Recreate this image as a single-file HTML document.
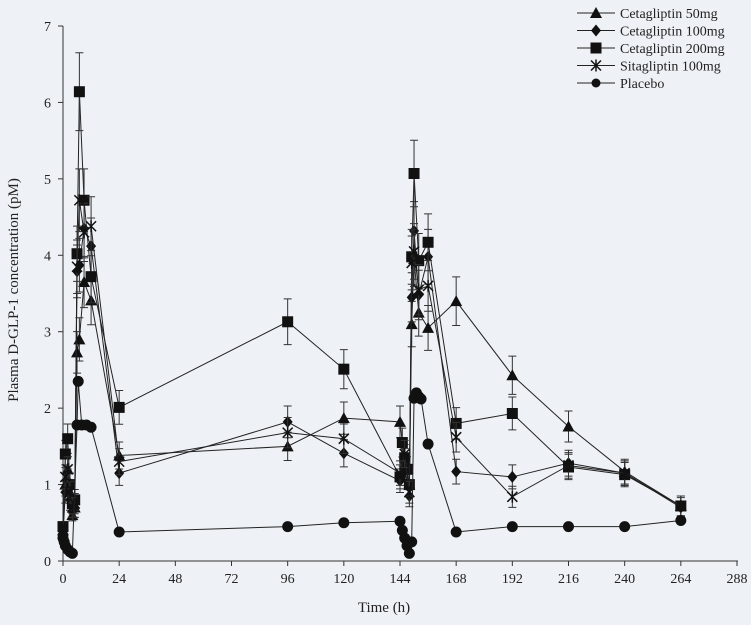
<!DOCTYPE html>
<html><head><style>body{margin:0;background:#eef2f6}svg{display:block;font-family:"Liberation Serif",serif}</style></head>
<body>
<svg id="s" width="751" height="625" xmlns="http://www.w3.org/2000/svg"></svg>
<script>
const X=t=>63+t*674/288, Y=v=>561-v*76.43;
let h='<rect width="751" height="625" fill="#eef2f6"/>';
h+='<line x1="63" y1="26" x2="63" y2="561" stroke="#333"/><line x1="63" y1="561" x2="738" y2="561" stroke="#333"/>';
for(let v=0;v<=7;v++){h+=`<line x1="58" y1="${Y(v)}" x2="63" y2="${Y(v)}" stroke="#333"/><text x="51" y="${Y(v)+5}" font-size="14" text-anchor="end" fill="#222">${v}</text>`;}
for(let t=0;t<=288;t+=24){h+=`<line x1="${X(t)}" y1="561" x2="${X(t)}" y2="566" stroke="#333"/><text x="${X(t)}" y="583" font-size="14" text-anchor="middle" fill="#222">${t}</text>`;}
h+='<text x="384" y="612" font-size="15" text-anchor="middle" fill="#222">Time (h)</text>';
h+='<text transform="translate(18,290) rotate(-90)" font-size="15" text-anchor="middle" fill="#222">Plasma D-GLP-1 concentration (pM)</text>';
function mk(type,x,y){
 if(type=='tri')return `<polygon points="${x},${y-6} ${x-6},${y+5} ${x+6},${y+5}" fill="#111"/>`;
 if(type=='dia')return `<polygon points="${x},${y-6} ${x+5},${y} ${x},${y+6} ${x-5},${y}" fill="#111"/>`;
 if(type=='sq')return `<rect x="${x-5.5}" y="${y-5.5}" width="11" height="11" fill="#111"/>`;
 if(type=='st')return `<path d="M${x-5} ${y-5}L${x+5} ${y+5}M${x+5} ${y-5}L${x-5} ${y+5}M${x} ${y-6}V${y+6}" stroke="#111" stroke-width="1.5"/>`;
 return `<circle cx="${x}" cy="${y}" r="5.5" fill="#111"/>`;
}
const S=[
['tri',[[0,.4],[1,1],[2,1.2],[3,.9],[4,.6],[5,.7],[6,2.73],[7,2.9],[9,3.65],[12,3.41],[24,1.38],[96,1.5],[120,1.87],[144,1.82],[146,1.3],[148,1],[149,3.1],[150,3.95],[152,3.25],[156,3.05],[168,3.4],[192,2.43],[216,1.76],[240,1.17],[264,.72]]],
['dia',[[0,.35],[1,.9],[2,1.05],[3,.8],[4,.65],[5,.7],[6,3.79],[7,3.87],[9,4.35],[12,4.12],[24,1.15],[96,1.82],[120,1.41],[144,1.05],[146,1.2],[148,.85],[149,3.45],[150,4.32],[152,3.48],[156,3.98],[168,1.17],[192,1.1],[216,1.28],[240,1.15],[264,.7]]],
['sq',[[0,.45],[1,1.4],[2,1.6],[3,1],[4,.75],[5,.8],[6,4.02],[7,6.14],[9,4.72],[12,3.72],[24,2.01],[96,3.13],[120,2.51],[144,1.1],[145,1.55],[146,1.35],[147,1.2],[148,1],[149,3.98],[150,5.07],[152,3.93],[156,4.17],[168,1.8],[192,1.93],[216,1.23],[240,1.13],[264,.72]]],
['st',[[0,.4],[1,1.1],[2,1.2],[3,.9],[4,.7],[5,.75],[6,3.85],[7,4.72],[9,4.3],[12,4.38],[24,1.3],[96,1.68],[120,1.6],[144,1.15],[146,1.4],[148,.9],[149,3.9],[150,4.05],[152,3.55],[156,3.6],[168,1.62],[192,.84],[216,1.25],[240,1.15],[264,.72]]],
['ci',[[0,.3],[.5,.25],[1,.2],[2,.15],[3,.12],[4,.1],[6,1.78],[6.5,2.35],[8,1.78],[10,1.78],[12,1.75],[24,.38],[96,.45],[120,.5],[144,.52],[145,.4],[146,.3],[147,.2],[148,.1],[149,.25],[150,2.13],[151,2.2],[152,2.15],[153,2.12],[156,1.53],[168,.38],[192,.45],[216,.45],[240,.45],[264,.53]]]];
for(const [ty,d] of S){
 h+=`<polyline fill="none" stroke="#222" stroke-width="1" points="${d.map(p=>X(p[0])+','+Y(p[1])).join(' ')}"/>`;
 for(const [t,v] of d){ if(v>.6&&ty!='ci'){const e=v*.07+.08,x=X(t);h+=`<path d="M${x} ${Y(v+e)}V${Y(v-e)}M${x-4} ${Y(v+e)}h8M${x-4} ${Y(v-e)}h8" stroke="#333"/>`;} }
 for(const [t,v] of d) h+=mk(ty,X(t),Y(v));
}
const L=[['tri','Cetagliptin 50mg'],['dia','Cetagliptin 100mg'],['sq','Cetagliptin 200mg'],['st','Sitagliptin 100mg'],['ci','Placebo']];
L.forEach(([ty,n],i)=>{const y=13+i*17.5;h+=`<line x1="577" y1="${y}" x2="615" y2="${y}" stroke="#222"/>`+mk(ty,596,y).replace(/5\.5/g,'4.5')+`<text x="620" y="${y+5}" font-size="14" fill="#222">${n}</text>`;});
document.getElementById('s').innerHTML=h;
</script>
</body></html>
